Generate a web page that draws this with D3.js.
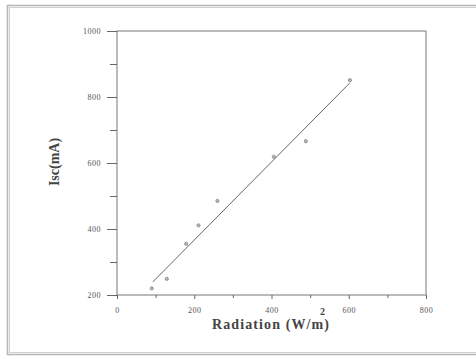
<!DOCTYPE html>
<html>
<head>
<meta charset="utf-8">
<script src="https://cdn.jsdelivr.net/npm/d3@7"></script>
<style>
  body { margin: 0; background: #fff; }
  svg { display: block; }
</style>
</head>
<body>
<svg id="chart" width="476" height="359"></svg>
<script>
// measured points
const radiation = [90, 129, 179, 211, 260, 406, 489, 603];
const isc = [220, 249, 355, 411, 485, 619, 666, 851];
// fitted line end points
const fitX = [93, 603];
const fitY = [240, 843];
const xTicks = [0, 200, 400, 600, 800];
const yTicks = [200, 400, 600, 800, 1000];

const margin = {top: 31, right: 50, bottom: 64, left: 117},
  width = 426 - margin.left,
  height = 295 - margin.top;

const svg = d3.select("#chart");

// outer frame (double grey line)
svg.append("rect").attr("x", 7.5).attr("y", 5.5).attr("width", 480).attr("height", 349)
  .attr("fill", "none").attr("stroke", "#b5b5b5").attr("stroke-width", 1.5);
svg.append("rect").attr("x", 9.5).attr("y", 7.5).attr("width", 480).attr("height", 345)
  .attr("fill", "none").attr("stroke", "#d0d0d0").attr("stroke-width", 1);

const g = svg.append("g").attr("transform", `translate(${margin.left}, ${margin.top})`);

const x = d3.scaleLinear().domain([0, 800]).range([0, width]);
const y = d3.scaleLinear().domain([200, 1000]).range([height, 0]);

// box
g.append("rect").attr("width", width).attr("height", height)
  .attr("fill", "none").attr("stroke", "#777").attr("stroke-width", 1);

const serif = "'Liberation Serif', 'DejaVu Serif', serif";

// x axis
const xAxis = g.append("g").attr("transform", `translate(0,${height})`)
  .call(d3.axisBottom(x).tickValues(xTicks).tickSize(4).tickPadding(8).tickFormat(d3.format("d")));
xAxis.append("g").call(d3.axisBottom(x).tickValues([100, 300, 500, 700]).tickSize(3).tickFormat(""));

// y axis
const yAxis = g.append("g")
  .call(d3.axisLeft(y).tickValues(yTicks).tickSize(10).tickPadding(6).tickFormat(d3.format("d")));
yAxis.append("g").call(d3.axisLeft(y).tickValues([300, 500, 700, 900]).tickSize(7).tickFormat(""));

g.selectAll(".domain").remove();
g.selectAll(".tick line").attr("stroke", "#666");
g.selectAll(".tick text").attr("fill", "#555").attr("font-family", serif)
  .style("font-family", serif).style("font-size", "8px").style("letter-spacing", "0.5px");

// fit line
g.append("line")
  .attr("x1", x(fitX[0])).attr("y1", y(fitY[0]))
  .attr("x2", x(fitX[1])).attr("y2", y(fitY[1]))
  .attr("stroke", "#666").attr("stroke-width", 1);

// points
g.selectAll("circle.pt").data(radiation).join("circle")
  .attr("class", "pt")
  .attr("cx", (d) => x(d))
  .attr("cy", (d, i) => y(isc[i]))
  .attr("r", 1.6)
  .attr("fill", "#bbb").attr("stroke", "#777").attr("stroke-width", 0.7);

// labels
svg.append("text")
  .attr("x", 212).attr("y", 329)
  .attr("textLength", 117).attr("lengthAdjust", "spacing")
  .style("font-family", serif).style("font-weight", "bold").style("font-size", "14px")
  .attr("fill", "#444")
  .text("Radiation (W/m)");
svg.append("text")
  .attr("x", 320).attr("y", 315)
  .style("font-family", serif).style("font-weight", "bold").style("font-size", "10px")
  .attr("fill", "#444")
  .text("2");
svg.append("text")
  .attr("transform", "translate(59,162) rotate(-90)")
  .attr("text-anchor", "middle")
  .style("font-family", serif).style("font-weight", "bold").style("font-size", "14px")
  .attr("fill", "#444")
  .text("Isc(mA)");
</script>
</body>
</html>
